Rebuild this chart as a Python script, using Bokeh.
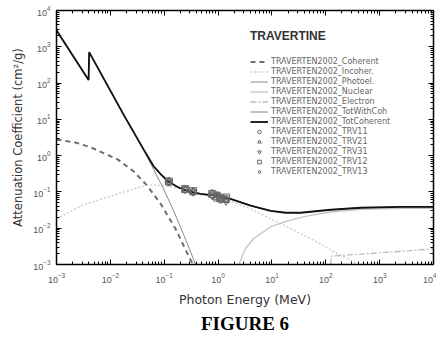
from bokeh.plotting import figure
from bokeh.models import LogAxis, FixedTicker, Legend, LegendItem, Title, CustomJSTickFormatter
from bokeh.embed import file_html
from bokeh.resources import INLINE

# ---------------- data ----------------
E_total = [0.001, 0.00394, 0.00404, 0.0176, 0.0414, 0.0636, 0.0858, 0.116, 0.177,
           0.272, 0.475, 0.98, 1.71, 4.03, 9.5, 18.0, 34.0, 124.0, 447.0, 2478.0, 10000.0]
mu_total = [2840, 122, 711, 13.5, 1.49, 0.51, 0.31, 0.20, 0.137,
            0.106, 0.088, 0.078, 0.064, 0.042, 0.030, 0.0267, 0.0267, 0.0323, 0.0366, 0.0388, 0.0388]

E_coh = [0.001, 0.00225, 0.00428, 0.0136, 0.027, 0.049, 0.0858, 0.162, 0.31, 0.352]
mu_coh = [2.8, 2.3, 1.7, 0.79, 0.37, 0.145, 0.047, 0.0097, 0.0013, 0.001]

E_pe = [0.001, 0.00394, 0.00404, 0.0176, 0.0414, 0.0636, 0.0975, 0.15, 0.23, 0.384]
mu_pe = [2835, 120, 709, 13.3, 1.42, 0.42, 0.12, 0.030, 0.0066, 0.001]

E_inc = [0.001, 0.0028, 0.0101, 0.027, 0.05, 0.1, 0.177, 0.475, 1.71, 4.03, 9.5,
         22.3, 52.7, 124.0, 292.0, 394.0]
mu_inc = [0.018, 0.041, 0.077, 0.12, 0.155, 0.15, 0.128, 0.083, 0.056, 0.034, 0.018,
          0.0098, 0.0052, 0.0025, 0.0013, 0.001]

E_nuc = [2.42, 3.26, 4.59, 9.5, 19.7, 46.0, 124.0, 447.0, 2478.0, 10000.0]
mu_nuc = [0.001, 0.0028, 0.0052, 0.011, 0.016, 0.022, 0.028, 0.033, 0.035, 0.0355]

E_el = [124.0, 126.0, 1050.0, 10000.0]
mu_el = [0.001, 0.0017, 0.0021, 0.0027]

E_meas = [0.122, 0.245, 0.344, 0.779, 0.964, 1.112, 1.408]
trv11 = [0.19, 0.118, 0.100, 0.085, 0.074, 0.070, 0.064]
trv21 = [0.20, 0.112, 0.104, 0.092, 0.080, 0.062, 0.058]
trv31 = [0.185, 0.116, 0.098, 0.078, 0.086, 0.074, 0.055]
trv12 = [0.195, 0.120, 0.105, 0.088, 0.070, 0.066, 0.070]
trv13 = [0.19, 0.114, 0.101, 0.080, 0.076, 0.058, 0.062]

x_ticks = [1e-3, 1e-2, 1e-1, 1e0, 1e1, 1e2, 1e3, 1e4]
y_ticks = [1e-3, 1e-2, 1e-1, 1e0, 1e1, 1e2, 1e3, 1e4]
minor = [m * 10.0 ** k for k in range(-3, 4) for m in range(2, 10)]

series_name = "TRAVERTEN2002"
title_txt = "TRAVERTINE"
caption = "FIGURE 6"

# ---------------- figure ----------------
p = figure(width=436, height=334, x_axis_type="log", y_axis_type="log",
           x_range=(1e-3, 1e4), y_range=(1e-3, 1e4),
           output_backend="svg", toolbar_location=None,
           min_border_left=56, min_border_right=3, min_border_top=10, min_border_bottom=68)
p.grid.visible = False
p.outline_line_color = "black"
p.outline_line_width = 1

blank = CustomJSTickFormatter(code="return ''")

def style_axis(ax, ticks, labels=True):
    ax.ticker = FixedTicker(ticks=ticks, minor_ticks=minor)
    ax.axis_line_color = "black"
    ax.axis_line_width = 1.5
    ax.major_tick_in = 5
    ax.major_tick_out = 0
    ax.minor_tick_in = 3
    ax.minor_tick_out = 0
    ax.major_tick_line_color = "black"
    ax.minor_tick_line_color = "black"
    if labels:
        ax.major_label_text_font = "Liberation Sans"
        ax.major_label_text_font_size = "9px"
        ax.major_label_text_color = "#555555"
        ax.axis_label_text_font = "DejaVu Sans"
        ax.axis_label_text_font_style = "normal"
        ax.axis_label_text_color = "#333333"
    else:
        ax.formatter = blank
        ax.major_label_text_font_size = "1px"
        ax.major_label_standoff = 0
        ax.axis_label_standoff = 0

for ax in p.xaxis:
    style_axis(ax, x_ticks)
    ax.major_label_standoff = 8
    ax.axis_label = "Photon Energy (MeV)"
    ax.axis_label_text_font_size = "12.5px"
    ax.axis_label_standoff = 6
for ax in p.yaxis:
    style_axis(ax, y_ticks)
    ax.major_label_standoff = 6
    ax.axis_label = "Attenuation Coefficient (cm²/g)"
    ax.axis_label_text_font_size = "11.5px"
    ax.axis_label_standoff = 5

top_ax = LogAxis()
style_axis(top_ax, x_ticks, labels=False)
p.add_layout(top_ax, "above")
right_ax = LogAxis()
style_axis(right_ax, y_ticks, labels=False)
p.add_layout(right_ax, "right")

# ---------------- curves ----------------
r_coh = p.line(E_coh, mu_coh, line_color="#6e6e6e", line_width=2, line_dash="5 4")
r_inc = p.line(E_inc, mu_inc, line_color="#cccccc", line_width=1.4, line_dash="2 2")
r_pe = p.line(E_pe, mu_pe, line_color="#8a8a8a", line_width=1)
r_nuc = p.line(E_nuc, mu_nuc, line_color="#c4c4c4", line_width=1.3)
r_el = p.line(E_el, mu_el, line_color="#bcbcbc", line_width=1.3, line_dash="6 2 2 2")
r_twc = p.line(E_total, mu_total, line_color="#9a9a9a", line_width=1.2)
r_tot = p.line(E_total, mu_total, line_color="#111111", line_width=1.8)

mk = dict(size=7, fill_color=None, line_color="#666666", line_width=1)
r11 = p.scatter(E_meas, trv11, marker="circle", **mk)
r21 = p.scatter(E_meas, trv21, marker="triangle", **mk)
r31 = p.scatter(E_meas, trv31, marker="inverted_triangle", **mk)
r12 = p.scatter(E_meas, trv12, marker="square", **mk)
r13 = p.scatter(E_meas, trv13, marker="diamond", **mk)

items = [
    LegendItem(label=series_name + "_Coherent", renderers=[r_coh]),
    LegendItem(label=series_name + "_Incoher.", renderers=[r_inc]),
    LegendItem(label=series_name + "_Photoel.", renderers=[r_pe]),
    LegendItem(label=series_name + "_Nuclear", renderers=[r_nuc]),
    LegendItem(label=series_name + "_Electron", renderers=[r_el]),
    LegendItem(label=series_name + "_TotWithCoh", renderers=[r_twc]),
    LegendItem(label=series_name + "_TotCoherent", renderers=[r_tot]),
    LegendItem(label=series_name + "_TRV11", renderers=[r11]),
    LegendItem(label=series_name + "_TRV21", renderers=[r21]),
    LegendItem(label=series_name + "_TRV31", renderers=[r31]),
    LegendItem(label=series_name + "_TRV12", renderers=[r12]),
    LegendItem(label=series_name + "_TRV13", renderers=[r13]),
]
legend = Legend(items=items, location=(194, 88), title=title_txt,
                padding=2, margin=0, spacing=1,
                glyph_width=18, glyph_height=9, label_height=9, label_standoff=3,
                label_text_font="DejaVu Sans", label_text_font_size="8px",
                label_text_color="#666666",
                title_text_font="Liberation Sans", title_text_font_size="12px",
                title_text_font_style="bold", title_text_color="#333333",
                title_standoff=14,
                border_line_color=None, background_fill_alpha=0)
p.add_layout(legend)

cap = Title(text=caption, align="center", text_font="Liberation Serif",
            text_font_size="19px", text_font_style="bold", text_color="black",
            standoff=2, offset=-10)
p.add_layout(cap, "below")

open("out.html", "w").write(file_html(p, INLINE))
